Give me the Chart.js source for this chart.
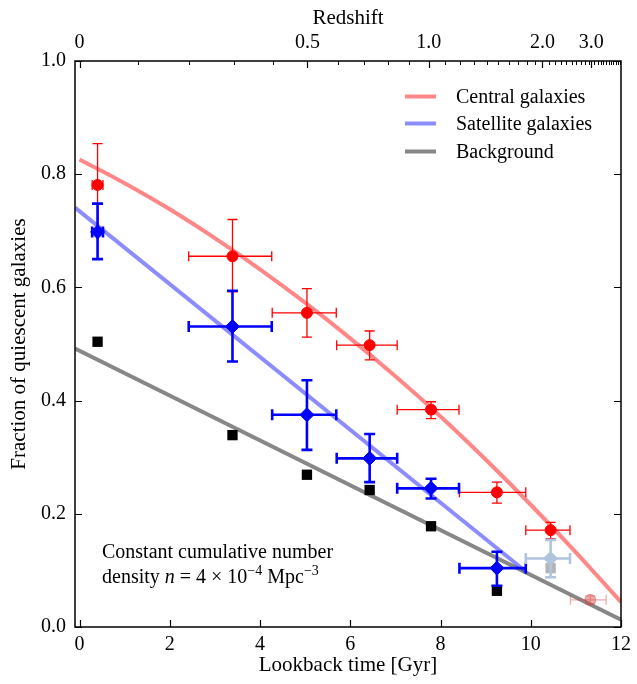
<!DOCTYPE html>
<html><head><meta charset="utf-8">
<script src="https://cdn.jsdelivr.net/npm/chart.js@4.4.0/dist/chart.umd.min.js"></script>
<style>html,body{margin:0;padding:0;background:#fff;}</style>
</head><body>
<canvas id="c" width="637" height="684"></canvas>
<script>
// ---------- data ----------
const lookbackTime   = [0.40, 3.39, 5.04, 6.43, 7.79, 9.25, 10.44, 11.32];
const binLow         = [0.28, 2.42, 4.27, 5.70, 7.04, 8.42, 9.89, 10.88];
const binHigh        = [0.52, 4.26, 5.69, 7.04, 8.41, 9.89, 10.87, 11.67];

const centralFrac    = [0.781, 0.655, 0.555, 0.498, 0.384, 0.238, 0.171, 0.048];
const centralUpper   = [0.854, 0.720, 0.598, 0.523, 0.398, 0.256, 0.185, 0.055];
const centralLower   = [0.704, 0.592, 0.512, 0.472, 0.368, 0.219, 0.156, 0.041];

const satelliteFrac  = [0.698, 0.531, 0.375, 0.298, 0.245, 0.104, 0.121];
const satelliteUpper = [0.748, 0.594, 0.436, 0.341, 0.262, 0.133, 0.154];
const satelliteLower = [0.650, 0.469, 0.313, 0.256, 0.227, 0.073, 0.088];

const backgroundFrac = [0.504, 0.339, 0.269, 0.242, 0.178, 0.064, 0.104];

// faded (unreliable) last bins
const centralFaded    = [false,false,false,false,false,false,false,true];
const satelliteFaded  = [false,false,false,false,false,false,true];
const backgroundFaded = [false,false,false,false,false,false,true];

// fitted trend lines
const centralFitT    = [0,1,2,3,4,5,6,7,8,9,10,11,12];
const centralFit     = [0.826,0.784,0.738,0.687,0.632,0.573,0.510,0.443,0.372,0.296,0.216,0.132,0.044];
const satelliteFitT  = [-0.1, 9.89];
const satelliteFit   = [0.741, 0.098];
const backgroundFitT = [-0.1, 12];
const backgroundFit  = [0.492, 0.013];

// axes
const bottomTicks   = [0,2,4,6,8,10,12];
const leftTicks     = [0,0.2,0.4,0.6,0.8,1.0];
const redshiftLabels = ['0','0.5','1.0','2.0','3.0'];
const redshiftMajorT = [0, 5.05, 7.74, 10.26, 11.34];
const redshiftMinorT = [1.30,2.43,3.42,4.29, 5.72,6.31,6.84,7.31,
  8.10,8.44,8.75,9.03,9.28,9.51,9.72,9.92,10.10,
  10.40,10.54,10.67,10.79,10.91,11.01,11.11,11.20,11.28,
  11.41,11.48,11.55,11.61,11.67,11.73,11.78,11.83,11.88,11.93,11.97];

const legendLabels = ['Central galaxies','Satellite galaxies','Background'];
const noteLine1 = 'Constant cumulative number';

// ---------- styling ----------
const FONT = "'Liberation Serif', 'Times New Roman', serif";
const RED = '#ff0000', BLUE = '#0000ff';
const RED_LINE = 'rgba(255,0,0,0.47)', BLUE_LINE = 'rgba(0,0,255,0.45)', GRAY_LINE = 'rgba(0,0,0,0.47)';
const RED_FADE = 'rgba(215,70,70,0.45)', BLUE_FADE = '#b0c4de', GRAY_FADE = '#b4b4b4';

const pts = (xs, ys) => ys.map((v,i)=>({x:xs[i], y:v}));
const errs = (ys, up, lo, faded, c, cf) => ys.map((v,i)=>({x:lookbackTime[i], y:v, xLo:binLow[i], xHi:binHigh[i], yHi:up[i], yLo:lo[i], color: faded[i]?cf:c}));

const errPlugin = {
  id:'errbars',
  beforeDatasetDraw(chart, args){
    const ds = chart.data.datasets[args.index];
    if(!ds.errBars) return;
    const ctx = chart.ctx, xs = chart.scales.x, ys = chart.scales.y;
    ctx.save();
    ctx.lineCap = 'butt';
    ds.errBars.forEach(e=>{
      const px = xs.getPixelForValue(e.x), py = ys.getPixelForValue(e.y);
      const y1 = ys.getPixelForValue(e.yHi), y2 = ys.getPixelForValue(e.yLo);
      const x1 = xs.getPixelForValue(e.xLo), x2 = xs.getPixelForValue(e.xHi);
      const c = ds.capHalf;
      ctx.strokeStyle = e.color; ctx.lineWidth = ds.errWidth;
      ctx.beginPath();
      ctx.moveTo(px,y1); ctx.lineTo(px,y2);
      ctx.moveTo(x1,py); ctx.lineTo(x2,py);
      ctx.moveTo(px-c,y1); ctx.lineTo(px+c,y1);
      ctx.moveTo(px-c,y2); ctx.lineTo(px+c,y2);
      ctx.moveTo(x1,py-c); ctx.lineTo(x1,py+c);
      ctx.moveTo(x2,py-c); ctx.lineTo(x2,py+c);
      ctx.stroke();
    });
    ctx.restore();
  }
};

const framePlugin = {
  id:'frame',
  afterDraw(chart){
    const ctx = chart.ctx, a = chart.chartArea, xs = chart.scales.x, ys = chart.scales.y;
    ctx.save();
    ctx.strokeStyle = '#000'; ctx.lineWidth = 1.5;
    ctx.strokeRect(a.left, a.top, a.right-a.left, a.bottom-a.top);
    ctx.lineWidth = 1.2;
    ctx.beginPath();
    bottomTicks.forEach(v=>{ const p = Math.round(xs.getPixelForValue(v))+0.5; ctx.moveTo(p,a.bottom); ctx.lineTo(p,a.bottom-7); });
    leftTicks.forEach(v=>{ const p = Math.round(ys.getPixelForValue(v))+0.5;
      ctx.moveTo(a.left,p); ctx.lineTo(a.left+7,p); ctx.moveTo(a.right,p); ctx.lineTo(a.right-7,p); });
    redshiftMajorT.forEach(v=>{ const p = Math.round(xs.getPixelForValue(v))+0.5; ctx.moveTo(p,a.top); ctx.lineTo(p,a.top+7); });
    ctx.stroke();
    ctx.lineWidth = 1;
    ctx.beginPath();
    redshiftMinorT.forEach(v=>{ const p = Math.round(xs.getPixelForValue(v))+0.5; ctx.moveTo(p,a.top); ctx.lineTo(p,a.top+4); });
    ctx.stroke();

    // legend
    const legColors = [RED_LINE, BLUE_LINE, GRAY_LINE];
    const legY = [96.5, 123.5, 151.5];
    ctx.font = '20px ' + FONT; ctx.fillStyle = '#000'; ctx.textBaseline = 'middle'; ctx.textAlign = 'left';
    legendLabels.forEach((t,i)=>{
      ctx.strokeStyle = legColors[i]; ctx.lineWidth = 4;
      ctx.beginPath(); ctx.moveTo(405, legY[i]); ctx.lineTo(436, legY[i]); ctx.stroke();
      ctx.fillText(t, 456, legY[i]+1);
    });

    // note
    ctx.textBaseline = 'alphabetic';
    ctx.font = '20px ' + FONT;
    ctx.fillText(noteLine1, 102, 558);
    let x = 102; const by = 583;
    const seg = (txt, font, dy) => { ctx.font = font; ctx.fillText(txt, x, by + dy); x += ctx.measureText(txt).width; };
    seg('density ', '20px '+FONT, 0);
    seg('n', 'italic 20px '+FONT, 0);
    seg(' = 4 \u00d7 10', '20px '+FONT, 0);
    seg('\u2212' + '4', '14px '+FONT, -8);
    seg(' Mpc', '20px '+FONT, 0);
    seg('\u2212' + '3', '14px '+FONT, -8);
    ctx.restore();
  }
};

const tickFont = {family: FONT, size: 20};
const titleFont = {family: FONT, size: 21};

new Chart(document.getElementById('c'), {
  type: 'scatter',
  data: {
    datasets: [
      { label:'Satellite galaxies points', data: pts(lookbackTime, satelliteFrac),
        errBars: errs(satelliteFrac, satelliteUpper, satelliteLower, satelliteFaded, BLUE, BLUE_FADE),
        errWidth: 2.6, capHalf: 5.5,
        pointStyle:'rectRot', pointRadius:7, pointHoverRadius:7,
        pointBackgroundColor: satelliteFaded.map(f=>f?BLUE_FADE:BLUE),
        pointBorderColor: satelliteFaded.map(f=>f?BLUE_FADE:BLUE), pointBorderWidth:1, order:1 },
      { label:'Central galaxies points', data: pts(lookbackTime, centralFrac),
        errBars: errs(centralFrac, centralUpper, centralLower, centralFaded, RED, RED_FADE),
        errWidth: 1.3, capHalf: 5,
        pointStyle:'circle', pointRadius:5.5, pointHoverRadius:5.5,
        pointBackgroundColor: centralFaded.map(f=>f?RED_FADE:RED),
        pointBorderColor: centralFaded.map(f=>f?RED_FADE:RED), pointBorderWidth:1, order:2 },
      { label:'Background points', data: pts(lookbackTime, backgroundFrac),
        pointStyle:'rect', pointRadius:7.3, pointHoverRadius:7.3,
        pointBackgroundColor: backgroundFaded.map(f=>f?GRAY_FADE:'#000'),
        pointBorderColor: backgroundFaded.map(f=>f?GRAY_FADE:'#000'), pointBorderWidth:0, order:3 },
      { type:'line', label:'Central galaxies', data: pts(centralFitT, centralFit),
        borderColor: RED_LINE, borderWidth:4, pointRadius:0, cubicInterpolationMode:'monotone', fill:false, order:4 },
      { type:'line', label:'Satellite galaxies', data: pts(satelliteFitT, satelliteFit),
        borderColor: BLUE_LINE, borderWidth:4, pointRadius:0, fill:false, order:5 },
      { type:'line', label:'Background', data: pts(backgroundFitT, backgroundFit),
        borderColor: GRAY_LINE, borderWidth:4, pointRadius:0, fill:false, order:6 }
    ]
  },
  options: {
    responsive:false, animation:false, devicePixelRatio:1,
    layout:{ padding:{left:0, right:13, top:0, bottom:0} },
    plugins:{ legend:{display:false}, tooltip:{enabled:false} },
    scales:{
      x:{ type:'linear', position:'bottom', min:-0.1, max:12,
        afterBuildTicks: s => { s.ticks = bottomTicks.map(v=>({value:v})); },
        afterFit: s => { s.height = 57; },
        ticks:{ font:tickFont, color:'#000', padding:6, maxRotation:0, autoSkip:false, callback: v => String(v) },
        grid:{ display:false, drawTicks:false }, border:{display:false},
        title:{ display:true, text:'Lookback time [Gyr]', font:titleFont, color:'#000', padding:{top:0,bottom:6} } },
      x2:{ type:'linear', position:'top', min:-0.1, max:12,
        afterBuildTicks: s => { s.ticks = redshiftMajorT.map(v=>({value:v})); },
        afterFit: s => { s.height = 61; },
        ticks:{ font:tickFont, color:'#000', padding:6, maxRotation:0, autoSkip:false,
          callback: (v, i) => redshiftLabels[i] },
        grid:{ display:false, drawTicks:false }, border:{display:false},
        title:{ display:true, text:'Redshift', font:titleFont, color:'#000', padding:{top:6,bottom:0} } },
      y:{ type:'linear', position:'left', min:0, max:1,
        afterBuildTicks: s => { s.ticks = leftTicks.map(v=>({value:v})); },
        afterFit: s => { s.width = 75; },
        ticks:{ font:tickFont, color:'#000', padding:9, callback: v => v.toFixed(1) },
        grid:{ display:false, drawTicks:false }, border:{display:false},
        title:{ display:true, text:'Fraction of quiescent galaxies', font:titleFont, color:'#000', padding:{top:7,bottom:0} } }
    }
  },
  plugins:[errPlugin, framePlugin]
});
</script>
</body></html>
